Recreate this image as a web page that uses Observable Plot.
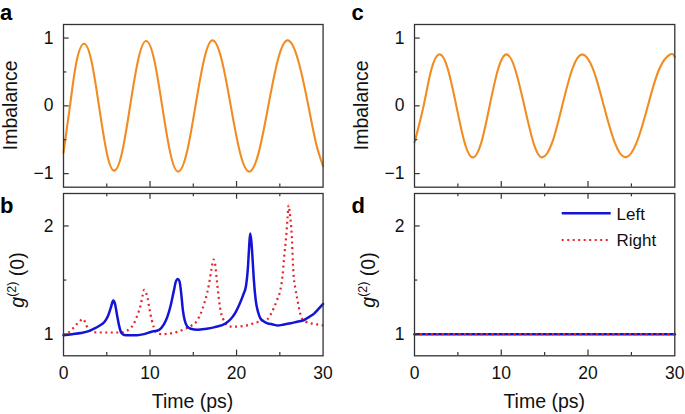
<!DOCTYPE html>
<html>
<head>
<meta charset="utf-8">
<script src="https://cdn.jsdelivr.net/npm/d3@7"></script>
<script src="https://cdn.jsdelivr.net/npm/@observablehq/plot@0.6"></script>
<style>
  html, body { margin: 0; padding: 0; background: #fff; }
  #fig { position: relative; width: 685px; height: 414px; overflow: hidden;
         font-family: "Liberation Sans", Arial, Helvetica, sans-serif; }
  #fig svg { position: absolute; }
</style>
</head>
<body>
<div id="fig"></div>
<script>
// ---------------- data ----------------
// Panel a: imbalance vs time
const aTime      = [0, 0.75, 1.5, 2.38, 3.25, 4.1, 4.98, 5.85, 6.78, 7.7, 8.63, 9.55, 10.48, 11.4, 12.33, 13.25, 14.25, 15.25, 16.24, 17.22, 18.28, 19.33, 20.4, 21.45, 22.56, 23.67, 24.78, 25.89, 27.1, 28.3, 29.2, 30];
const aImbalance = [-0.69, 0, 0.65, 0.916, 0.65, 0, -0.68, -0.956, -0.68, 0, 0.68, 0.956, 0.68, 0, -0.69, -0.97, -0.69, 0, 0.68, 0.966, 0.68, 0, -0.69, -0.97, -0.69, 0, 0.68, 0.966, 0.68, 0, -0.56, -0.89];

// Panel c: imbalance vs time
const cTime      = [0, 1.05, 1.95, 2.92, 3.85, 4.82, 5.77, 6.72, 7.7, 8.66, 9.63, 10.6, 11.6, 12.66, 13.7, 14.72, 15.87, 17.02, 18.18, 19.33, 20.58, 21.82, 23.07, 24.32, 25.61, 26.9, 28.2, 29.5, 30];
const cImbalance = [-0.54, 0, 0.54, 0.76, 0.54, 0, -0.54, -0.76, -0.54, 0, 0.54, 0.76, 0.54, 0, -0.54, -0.76, -0.54, 0, 0.54, 0.76, 0.54, 0, -0.54, -0.76, -0.54, 0, 0.54, 0.76, 0.72];

// Panel b: g2(0), left (solid) and right (dotted)
const bLeftTime = [0, 1, 2, 3, 3.54, 4.2, 4.7, 5.1, 5.45, 5.75, 5.95, 6.2, 6.45, 6.7, 7.0, 7.5, 8.5, 9.3, 10.1, 11.05, 11.6, 12.0, 12.4, 12.75, 13.0, 13.2, 13.4, 13.6, 13.8, 14.0, 14.3, 14.7, 15.5, 16.5, 17.5, 18.76, 19.33, 19.8, 20.3, 20.8, 21.1, 21.3, 21.45, 21.57, 21.72, 21.84, 22.0, 22.22, 22.5, 22.8, 23.2, 23.58, 24.2, 24.73, 25.5, 26.27, 27.0, 27.8, 28.4, 28.96, 29.5, 30];
const bLeftG2   = [0.99, 1.0, 1.01, 1.03, 1.05, 1.08, 1.11, 1.16, 1.24, 1.31, 1.28, 1.17, 1.07, 1.01, 0.993, 0.99, 0.99, 1.0, 1.02, 1.04, 1.09, 1.16, 1.27, 1.40, 1.49, 1.51, 1.49, 1.38, 1.22, 1.13, 1.07, 1.05, 1.04, 1.05, 1.065, 1.10, 1.14, 1.19, 1.27, 1.37, 1.45, 1.6, 1.8, 1.93, 1.85, 1.71, 1.5, 1.31, 1.2, 1.14, 1.115, 1.10, 1.09, 1.08, 1.09, 1.10, 1.115, 1.13, 1.16, 1.19, 1.235, 1.28];

const bRightTime = [0, 0.5, 1.04, 1.5, 1.8, 2.1, 2.27, 2.5, 2.7, 3.0, 3.35, 4.0, 5, 6, 6.5, 7.0, 7.4, 7.78, 8.1, 8.36, 8.65, 8.93, 9.15, 9.32, 9.5, 9.7, 9.9, 10.2, 10.45, 10.67, 11.0, 11.44, 12.0, 12.6, 13.3, 14.1, 14.7, 15.3, 15.8, 16.25, 16.6, 16.83, 17.1, 17.33, 17.5, 17.68, 17.85, 17.98, 18.2, 18.45, 18.95, 19.33, 19.9, 20.87, 21.6, 22.4, 23.0, 23.58, 24.0, 24.35, 24.7, 25.04, 25.3, 25.5, 25.75, 25.9, 26.02, 26.15, 26.35, 26.58, 26.8, 27.05, 27.3, 27.6, 28.0, 28.6, 29.3, 30];
const bRightG2   = [0.99, 1.01, 1.05, 1.09, 1.11, 1.135, 1.14, 1.11, 1.07, 1.04, 1.02, 1.015, 1.015, 1.015, 1.015, 1.02, 1.035, 1.06, 1.09, 1.14, 1.2, 1.27, 1.36, 1.41, 1.39, 1.34, 1.25, 1.13, 1.06, 1.02, 1.005, 1.0, 1.003, 1.01, 1.025, 1.05, 1.075, 1.11, 1.18, 1.28, 1.38, 1.47, 1.6, 1.69, 1.66, 1.53, 1.4, 1.31, 1.2, 1.14, 1.08, 1.07, 1.07, 1.075, 1.09, 1.11, 1.125, 1.14, 1.19, 1.25, 1.32, 1.40, 1.53, 1.71, 1.92, 2.08, 2.19, 2.12, 1.95, 1.56, 1.42, 1.31, 1.21, 1.14, 1.115, 1.10, 1.09, 1.08];

// Panel d: g2(0), flat
const dTime    = [0, 30];
const dLeftG2  = [1, 1];
const dRightG2 = [1, 1];

// ticks and labels
const xTickLabels = [0, 10, 20, 30];
const xMajorTicks = [10, 20];
const xMinorTicks = [5, 15, 25];
const imbTickLabels = [-1, 0, 1];
const imbMinorTicks = [-0.5, 0.5];
const g2TickLabels = [1, 2];
const g2MinorTicks = [1.5];
const legendLabels = ["Left", "Right"];

// ---------------- styling ----------------
const ORANGE = "#f28c22";
const BLUE = "#1414d6";
const RED = "#e4252b";
const AX = "#333";
const FONT = '"Liberation Sans", Arial, Helvetica, sans-serif';
const MAJOR = 5.7, MINOR = 3.3;

const tbl = (ts, vs) => ts.map((t, i) => ({t, v: vs[i]}));
const fmt = d => d < 0 ? "\u2212" + (-d) : String(d);

const fig = document.getElementById("fig");

function panel(o) {
  const fw = o.x1 - o.x0, fh = o.y1 - o.y0;
  const mL = 45, mR = 8, mT = 8, mB = o.xLabels ? 32 : 8;
  const marks = [...o.marks];
  const tk = {stroke: AX, strokeWidth: 1.2};
  marks.push(Plot.tickX(xMajorTicks, {x: d => d, insetTop: fh - MAJOR, ...tk}));
  marks.push(Plot.tickX(xMinorTicks, {x: d => d, insetTop: fh - MINOR, ...tk}));
  if (o.topTicks) {
    marks.push(Plot.tickX(xMajorTicks, {x: d => d, insetBottom: fh - MAJOR, ...tk}));
    marks.push(Plot.tickX(xMinorTicks, {x: d => d, insetBottom: fh - MINOR, ...tk}));
  }
  marks.push(Plot.tickY(o.yLabels, {y: d => d, insetRight: fw - MAJOR, ...tk}));
  marks.push(Plot.tickY(o.yMinor, {y: d => d, insetRight: fw - MINOR, ...tk}));
  marks.push(Plot.frame({stroke: AX, strokeWidth: 1.3}));
  marks.push(Plot.axisY({ticks: o.yLabels, tickSize: 0, tickPadding: 10, tickFormat: fmt, label: null}));
  if (o.xLabels) marks.push(Plot.axisX({ticks: xTickLabels, tickSize: 0, tickPadding: 11, tickFormat: fmt, label: null}));
  const xOpts = {domain: [0, 30]};
  if (!o.xLabels) xOpts.axis = null;
  const svg = Plot.plot({
    width: fw + mL + mR, height: fh + mT + mB,
    marginLeft: mL, marginRight: mR, marginTop: mT, marginBottom: mB,
    x: xOpts,
    y: {domain: o.yDomain},
    style: {background: "transparent", fontSize: "17.5px", fontFamily: FONT, color: "#111", overflow: "visible"},
    marks
  });
  svg.style.position = "absolute";
  svg.style.left = (o.x0 - mL) + "px";
  svg.style.top = (o.y0 - mT) + "px";
  svg.style.maxWidth = "none";
  fig.appendChild(svg);
}

const dotted = {stroke: RED, strokeWidth: 2.2, strokeDasharray: "2,3.5", strokeLinecap: "butt"};

panel({x0: 62.7, x1: 322.3, y0: 24, y1: 186.7, yDomain: [-1.2, 1.2],
  yLabels: imbTickLabels, yMinor: imbMinorTicks, xLabels: false, topTicks: false,
  marks: [Plot.line(tbl(aTime, aImbalance), {x: "t", y: "v", stroke: ORANGE, strokeWidth: 2.1, curve: "natural"})]});

panel({x0: 414, x1: 674.3, y0: 24, y1: 186.7, yDomain: [-1.2, 1.2],
  yLabels: imbTickLabels, yMinor: imbMinorTicks, xLabels: false, topTicks: false,
  marks: [Plot.line(tbl(cTime, cImbalance), {x: "t", y: "v", stroke: ORANGE, strokeWidth: 2.1, curve: "natural"})]});

panel({x0: 62.7, x1: 322.3, y0: 192.7, y1: 355, yDomain: [0.8, 2.3],
  yLabels: g2TickLabels, yMinor: g2MinorTicks, xLabels: true, topTicks: true,
  marks: [
    Plot.line(tbl(bRightTime, bRightG2), {x: "t", y: "v", curve: "monotone-x", ...dotted}),
    Plot.line(tbl(bLeftTime, bLeftG2), {x: "t", y: "v", stroke: BLUE, strokeWidth: 2.5, curve: "monotone-x"})
  ]});

panel({x0: 414, x1: 674.3, y0: 192.7, y1: 355, yDomain: [0.8, 2.3],
  yLabels: g2TickLabels, yMinor: g2MinorTicks, xLabels: true, topTicks: true,
  marks: [
    Plot.line(tbl(dTime, dLeftG2), {x: "t", y: "v", stroke: BLUE, strokeWidth: 2.5}),
    Plot.line(tbl(dTime, dRightG2), {x: "t", y: "v", ...dotted})
  ]});

// ---------------- text overlay: panel letters, axis titles, legend ----------------
const ns = "http://www.w3.org/2000/svg";
const ov = document.createElementNS(ns, "svg");
ov.setAttribute("width", 685); ov.setAttribute("height", 414);
ov.style.left = "0px"; ov.style.top = "0px";
ov.setAttribute("font-family", FONT);
ov.innerHTML = `
  <g font-weight="bold" font-size="22" fill="#000">
    <text x="0" y="20">a</text>
    <text x="0" y="213.3">b</text>
    <text x="351.5" y="20">c</text>
    <text x="351.5" y="213.3">d</text>
  </g>
  <g font-size="19.5" fill="#111" text-anchor="middle">
    <text transform="translate(16.7,105.3) rotate(-90)">Imbalance</text>
    <text transform="translate(368.3,105.3) rotate(-90)">Imbalance</text>
    <text x="192.5" y="408">Time (ps)</text>
    <text x="544.2" y="408">Time (ps)</text>
    <text transform="translate(24,280) rotate(-90)"><tspan font-style="italic">g</tspan><tspan font-size="12.5" dy="-8">(2)</tspan><tspan dy="8"> (0)</tspan></text>
    <text transform="translate(375.3,280) rotate(-90)"><tspan font-style="italic">g</tspan><tspan font-size="12.5" dy="-8">(2)</tspan><tspan dy="8"> (0)</tspan></text>
  </g>
  <g font-size="17" fill="#111">
    <line x1="561.7" x2="610.7" y1="213.3" y2="213.3" stroke="${BLUE}" stroke-width="2.5"/>
    <text x="616.5" y="219.5">${legendLabels[0]}</text>
    <line x1="561.7" x2="610.7" y1="240" y2="240" stroke="${RED}" stroke-width="2.2" stroke-dasharray="2,3.5"/>
    <text x="616.5" y="246.2">${legendLabels[1]}</text>
  </g>`;
fig.appendChild(ov);
</script>
</body>
</html>
